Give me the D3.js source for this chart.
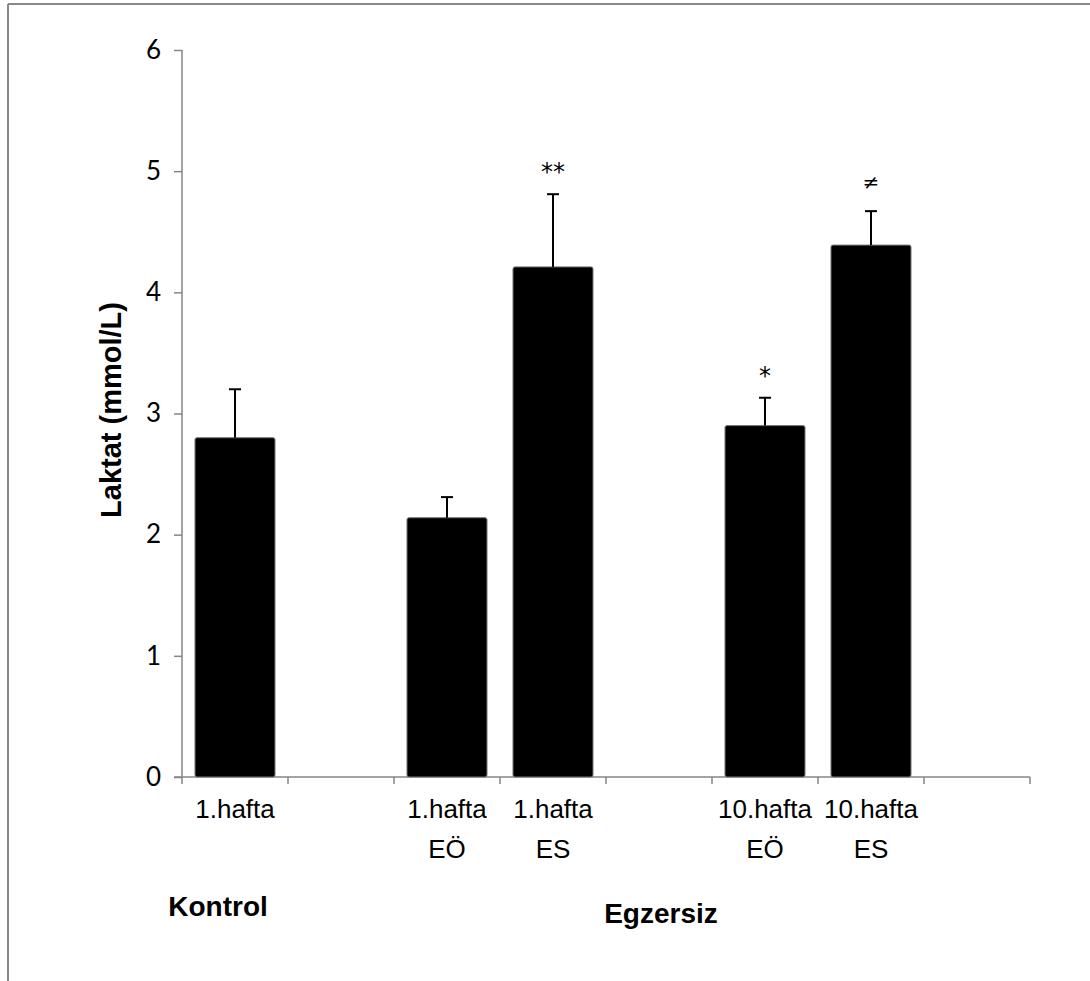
<!DOCTYPE html>
<html>
<head>
<meta charset="utf-8">
<script src="https://cdn.jsdelivr.net/npm/d3@7"></script>
<style>
  body { margin: 0; background: #fff; }
  svg { display: block; }
</style>
</head>
<body>
<svg id="viz"></svg>
<script>
// ----------------------- DATA
// 8 slots on the x axis, three of them are empty gaps
const slots = [0, 1, 2, 3, 4, 5, 6, 7];
const tickLabels = [['1.hafta'], [], ['1.hafta', 'EÖ'], ['1.hafta', 'ES'], [], ['10.hafta', 'EÖ'], ['10.hafta', 'ES'], []];
const means = [2.8, null, 2.14, 4.21, null, 2.9, 4.39, null];
const errors = [0.4, null, 0.17, 0.6, null, 0.23, 0.28, null];
const marks = ['', '', '', '**', '', '*', '≠', ''];
const yTicks = [0, 1, 2, 3, 4, 5, 6];

// ----------------------- SETTINGS
const W = 1090, H = 981;
// plot box (window.top is reserved, so prefixed names)
const plotLeft = 182, plotRight = 1030, plotTop = 50, plotBottom = 777;
const axisColor = '#868686';
const pad = 0.245;

const svg = d3.select('#viz')
  .attr('width', W)
  .attr('height', H);

// frame (only top and left edges are visible)
svg.append('line')
  .attr('x1', 8).attr('x2', W).attr('y1', 4).attr('y2', 4)
  .attr('stroke', '#888').attr('stroke-width', 2);
svg.append('line')
  .attr('x1', 8).attr('x2', 8).attr('y1', 4).attr('y2', H)
  .attr('stroke', '#888').attr('stroke-width', 2);

// ----------------------- SCALES
const x = d3.scaleBand()
  .domain(slots)
  .range([plotLeft, plotRight])
  .paddingInner(pad)
  .paddingOuter(pad / 2);

const y = d3.scaleLinear()
  .domain([0, 6])
  .range([plotBottom, plotTop]);

// ----------------------- AXES
const yAxis = d3.axisLeft(y)
  .tickValues(yTicks)
  .tickFormat(d3.format('d'))
  .tickSize(8)
  .tickPadding(13);

const gy = svg.append('g')
  .attr('transform', `translate(${plotLeft},0)`)
  .call(yAxis);
gy.select('.domain').attr('stroke', axisColor).attr('stroke-width', 1.5)
  .attr('d', `M0,${plotTop}V${plotBottom}`);
gy.selectAll('.tick line').attr('stroke', axisColor).attr('stroke-width', 1.5);
gy.selectAll('.tick text')
  .attr('font-family', 'Lato, "Open Sans", sans-serif')
  .attr('font-size', 26)
  .attr('fill', '#000');

// x axis line + ticks on slot boundaries
const gx = svg.append('g');
gx.append('line')
  .attr('x1', plotLeft - 8).attr('x2', plotRight)
  .attr('y1', plotBottom).attr('y2', plotBottom)
  .attr('stroke', axisColor).attr('stroke-width', 1.5);

const boundaries = slots.map(d => x(d) - x.step() * pad / 2).concat([plotRight]);
gx.selectAll('.xtick')
  .data(boundaries)
  .enter().append('line')
  .attr('class', 'xtick')
  .attr('x1', d => d).attr('x2', d => d)
  .attr('y1', plotBottom).attr('y2', plotBottom + 7)
  .attr('stroke', axisColor).attr('stroke-width', 1.5);

// category labels (two lines)
const lab = gx.selectAll('.xlabel')
  .data(slots)
  .enter().append('text')
  .attr('class', 'xlabel')
  .attr('text-anchor', 'middle')
  .attr('font-family', '"Liberation Sans", Arial, sans-serif')
  .attr('font-size', 26)
  .attr('fill', '#000');
lab.selectAll('tspan')
  .data(d => tickLabels[d].map(t => ({ t, i: d })))
  .enter().append('tspan')
  .attr('x', d => x(d.i) + x.bandwidth() / 2)
  .attr('y', (d, j) => plotBottom + 41 + j * 40)
  .text(d => d.t);

// ----------------------- BARS
const barData = slots.filter(d => means[d] != null);

svg.selectAll('.bar')
  .data(barData)
  .enter().append('rect')
  .attr('class', 'bar')
  .attr('x', d => x(d))
  .attr('y', d => y(means[d]))
  .attr('width', x.bandwidth())
  .attr('height', d => y(0) - y(means[d]))
  .attr('rx', 2)
  .attr('fill', '#000')
  .attr('stroke', '#777')
  .attr('stroke-width', 1);

// error bars (upper only)
const err = svg.selectAll('.err')
  .data(barData)
  .enter().append('g')
  .attr('class', 'err')
  .attr('stroke', '#000')
  .attr('stroke-width', 2);
err.append('line')
  .attr('x1', d => x(d) + x.bandwidth() / 2)
  .attr('x2', d => x(d) + x.bandwidth() / 2)
  .attr('y1', d => y(means[d]))
  .attr('y2', d => y(means[d] + errors[d]));
err.append('line')
  .attr('x1', d => x(d) + x.bandwidth() / 2 - 6)
  .attr('x2', d => x(d) + x.bandwidth() / 2 + 6)
  .attr('y1', d => y(means[d] + errors[d]))
  .attr('y2', d => y(means[d] + errors[d]));

// significance marks
svg.selectAll('.mark')
  .data(barData.filter(d => marks[d]))
  .enter().append('text')
  .attr('class', 'mark')
  .attr('x', d => x(d) + x.bandwidth() / 2)
  .attr('y', d => y(means[d] + errors[d]) - (marks[d] === '≠' ? 22 : 14))
  .attr('text-anchor', 'middle')
  .attr('font-family', '"DejaVu Sans", sans-serif')
  .attr('font-size', d => marks[d] === '≠' ? 20 : 24)
  .attr('fill', '#000')
  .text(d => marks[d]);

// ----------------------- TITLES
svg.append('text')
  .attr('transform', `translate(121, 410) rotate(-90)`)
  .attr('text-anchor', 'middle')
  .attr('font-family', '"Liberation Sans", Arial, sans-serif')
  .attr('font-weight', 'bold')
  .attr('font-size', 29)
  .text('Laktat (mmol/L)');

svg.append('text')
  .attr('x', 218).attr('y', 916)
  .attr('text-anchor', 'middle')
  .attr('font-family', '"Liberation Sans", Arial, sans-serif')
  .attr('font-weight', 'bold')
  .attr('font-size', 28)
  .text('Kontrol');

svg.append('text')
  .attr('x', 661).attr('y', 923)
  .attr('text-anchor', 'middle')
  .attr('font-family', '"Liberation Sans", Arial, sans-serif')
  .attr('font-weight', 'bold')
  .attr('font-size', 28)
  .text('Egzersiz');
</script>
</body>
</html>
